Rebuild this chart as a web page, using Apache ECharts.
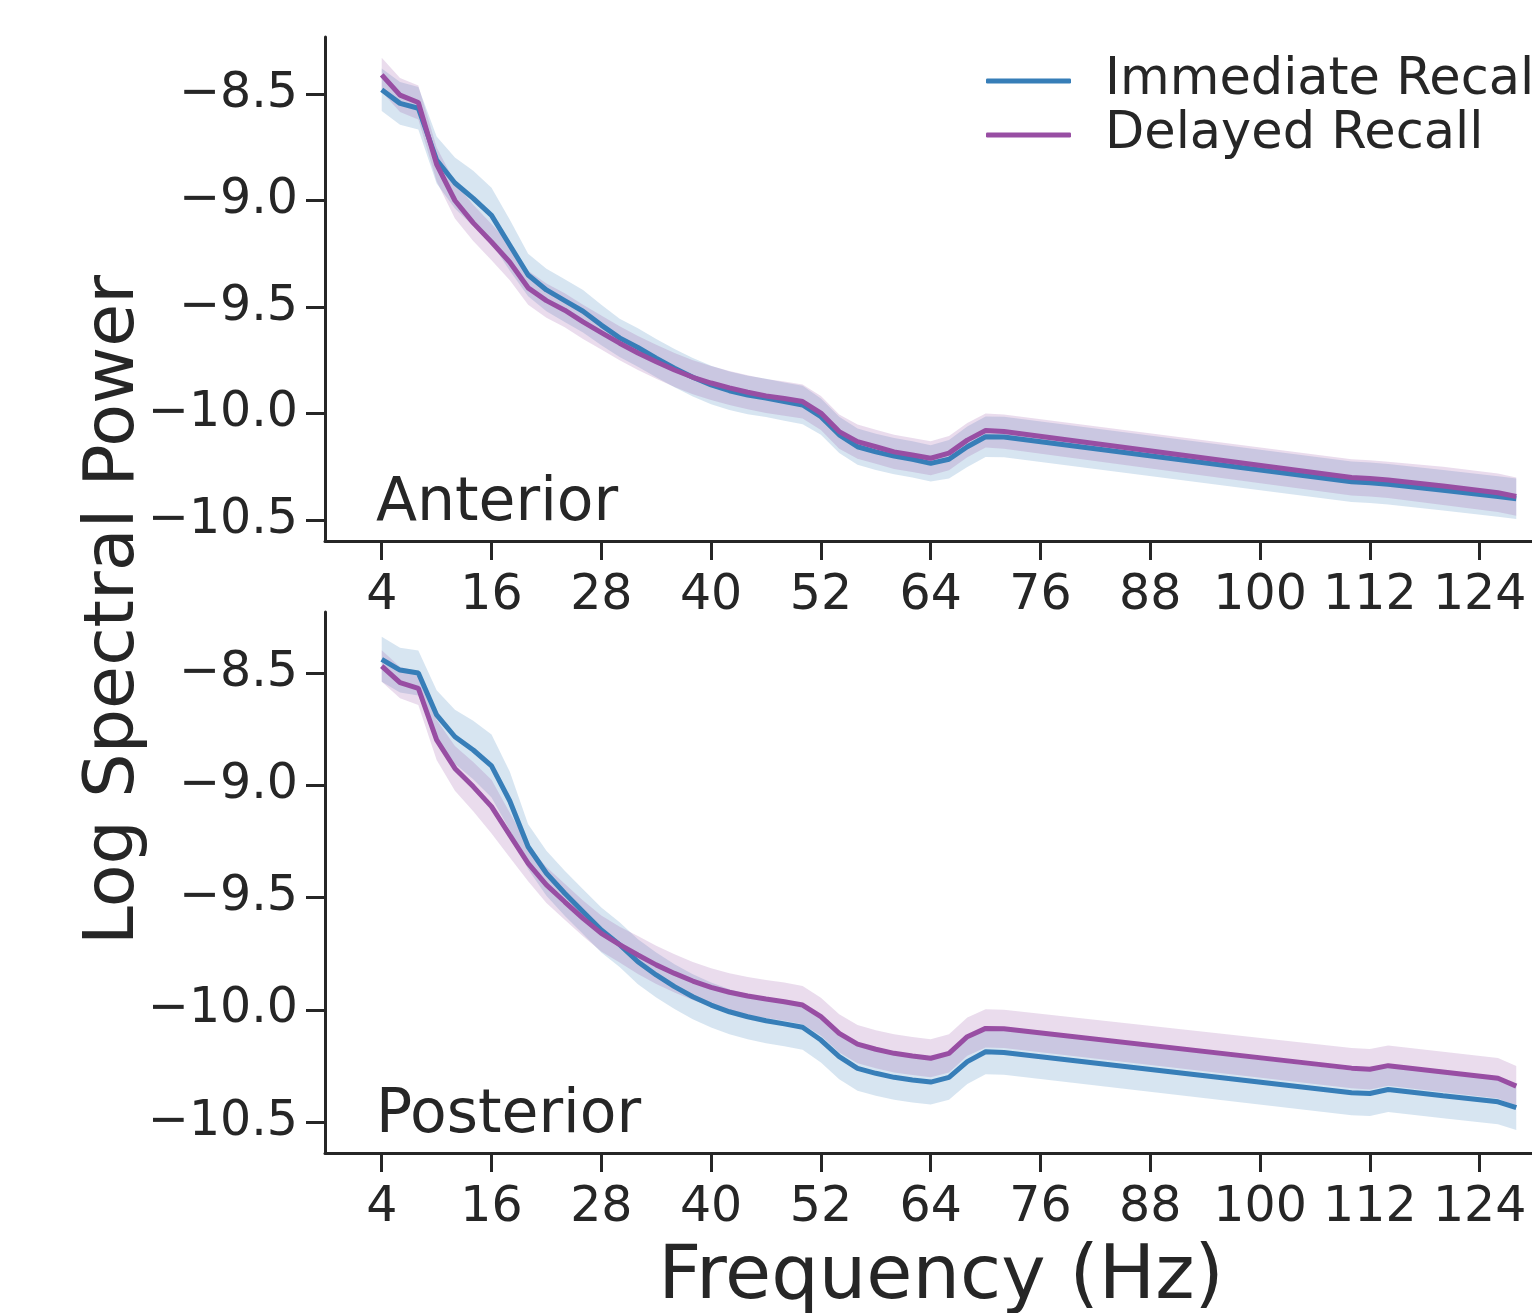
<!DOCTYPE html>
<html>
<head>
<meta charset="utf-8">
<script src="https://cdn.jsdelivr.net/npm/echarts@6/dist/echarts.min.js"></script>
<style>
html, body { margin: 0; padding: 0; background: #fff; }
#id-div-chart { width: 1532px; height: 1313px; }
</style>
</head>
<body>
<div id="id-div-chart"></div>
<script>
var log = console.log.bind(console)

var e = (selector) => document.querySelector(selector)

// 频率 (Hz)
var freqs = [4, 6, 8, 10, 12, 14, 16, 18, 20, 22, 24, 26, 28, 30, 32, 34, 36, 38, 40, 42,
    44, 46, 48, 50, 52, 54, 56, 58, 60, 62, 64, 66, 68, 70, 72, 110, 112, 114, 120, 126, 128]

// Anterior
var antImmediate = [-8.48, -8.544, -8.567, -8.81, -8.918, -8.99, -9.07, -9.21, -9.35, -9.42,
    -9.47, -9.52, -9.585, -9.645, -9.69, -9.74, -9.787, -9.83, -9.866, -9.893,
    -9.913, -9.927, -9.944, -9.96, -10.015, -10.10, -10.156, -10.18, -10.20, -10.215,
    -10.234, -10.215, -10.156, -10.109, -10.11, -10.32, -10.325, -10.332, -10.36, -10.39, -10.40]
var antImmediateErr = [0.1, 0.1, 0.1, 0.11, 0.12, 0.13, 0.13, 0.12, 0.1, 0.1,
    0.1, 0.1, 0.095, 0.09, 0.09, 0.09, 0.09, 0.09, 0.09, 0.09,
    0.09, 0.09, 0.09, 0.09, 0.085, 0.085, 0.085, 0.085, 0.085, 0.085,
    0.085, 0.09, 0.095, 0.095, 0.095, 0.095, 0.095, 0.095, 0.095, 0.095, 0.095]
var antDelayed = [-8.41, -8.505, -8.54, -8.83, -9.0, -9.105, -9.195, -9.29, -9.41, -9.47,
    -9.515, -9.57, -9.62, -9.67, -9.716, -9.757, -9.796, -9.83, -9.857, -9.88,
    -9.90, -9.918, -9.93, -9.944, -9.998, -10.085, -10.132, -10.156, -10.18, -10.195,
    -10.21, -10.186, -10.125, -10.08, -10.085, -10.30, -10.305, -10.312, -10.34, -10.372, -10.39]
var antDelayedErr = [0.08, 0.08, 0.08, 0.08, 0.085, 0.085, 0.085, 0.085, 0.08, 0.08,
    0.08, 0.08, 0.08, 0.08, 0.08, 0.08, 0.08, 0.08, 0.08, 0.08,
    0.08, 0.08, 0.08, 0.08, 0.08, 0.08, 0.08, 0.08, 0.08, 0.08,
    0.08, 0.08, 0.08, 0.08, 0.08, 0.085, 0.085, 0.085, 0.09, 0.09, 0.09]

// Posterior
var postImmediate = [-8.439, -8.487, -8.50, -8.687, -8.784, -8.843, -8.914, -9.07, -9.274, -9.392,
    -9.481, -9.563, -9.645, -9.71, -9.786, -9.845, -9.897, -9.942, -9.979, -10.009,
    -10.031, -10.049, -10.063, -10.078, -10.135, -10.209, -10.261, -10.283, -10.301, -10.313,
    -10.322, -10.301, -10.231, -10.187, -10.19, -10.37, -10.373, -10.355, -10.383, -10.41, -10.436]
var postImmediateErr = [0.1, 0.1, 0.1, 0.11, 0.12, 0.13, 0.14, 0.13, 0.1, 0.1,
    0.1, 0.1, 0.1, 0.1, 0.1, 0.1, 0.1, 0.1, 0.1, 0.1,
    0.1, 0.1, 0.1, 0.1, 0.1, 0.1, 0.1, 0.1, 0.1, 0.1,
    0.1, 0.1, 0.1, 0.1, 0.1, 0.1, 0.1, 0.1, 0.1, 0.1, 0.1]
var postDelayed = [-8.469, -8.543, -8.568, -8.798, -8.925, -9.006, -9.095, -9.222, -9.348, -9.444,
    -9.519, -9.593, -9.66, -9.71, -9.756, -9.80, -9.838, -9.872, -9.90, -9.922,
    -9.939, -9.952, -9.964, -9.979, -10.031, -10.105, -10.153, -10.176, -10.194, -10.206,
    -10.216, -10.194, -10.12, -10.083, -10.085, -10.26, -10.265, -10.249, -10.277, -10.305, -10.34]
var postDelayedErr = [0.07, 0.07, 0.075, 0.09, 0.1, 0.11, 0.12, 0.1, 0.08, 0.08,
    0.08, 0.08, 0.08, 0.08, 0.085, 0.085, 0.085, 0.085, 0.085, 0.085,
    0.085, 0.085, 0.085, 0.085, 0.085, 0.085, 0.085, 0.085, 0.085, 0.085,
    0.085, 0.085, 0.085, 0.085, 0.085, 0.09, 0.09, 0.09, 0.09, 0.09, 0.09]

var xTicks = [4, 16, 28, 40, 52, 64, 76, 88, 100, 112, 124]
var yTicks = [-10.5, -10.0, -9.5, -9.0, -8.5]

var ink = '#262626'
var font = 'DejaVu Sans'
var blue = '#377eb8'
var purple = '#984ea3'

var minusLabel = (v) => (v < 0 ? '\u2212' : '') + Math.abs(v).toFixed(1)

var xAxisFor = function(grid) {
    return {
        type: 'value',
        gridIndex: grid,
        min: -2.2,
        max: 134.2,
        axisLine: {show: true, onZero: false, lineStyle: {color: ink, width: 3}},
        axisTick: {show: true, customValues: xTicks, length: 19, lineStyle: {color: ink, width: 3}},
        axisLabel: {customValues: xTicks, fontSize: 49, fontFamily: font, color: ink, margin: 31},
        splitLine: {show: false},
    }
}

var yAxisFor = function(grid, min, max) {
    return {
        type: 'value',
        gridIndex: grid,
        min: min,
        max: max,
        axisLine: {show: true, onZero: false, lineStyle: {color: ink, width: 3}},
        axisTick: {show: true, customValues: yTicks, length: 19, lineStyle: {color: ink, width: 3}},
        axisLabel: {customValues: yTicks, formatter: minusLabel, fontSize: 49, fontFamily: font, color: ink, margin: 27},
        splitLine: {show: false},
    }
}

// 误差带: 用坐标轴换算出上下沿, 画成一个多边形
var bandSeries = function(grid, values, errs, color) {
    return {
        type: 'custom',
        xAxisIndex: grid,
        yAxisIndex: grid,
        silent: true,
        z: 1,
        data: freqs.map((f, i) => [f, values[i] - errs[i], values[i] + errs[i]]),
        encode: {x: 0, y: [1, 2]},
        renderItem: function(params, api) {
            if (params.dataIndex !== 0) {
                return
            }
            var upper = []
            var lower = []
            for (var i = 0; i < freqs.length; i++) {
                upper.push(api.coord([freqs[i], values[i] + errs[i]]))
                lower.push(api.coord([freqs[i], values[i] - errs[i]]))
            }
            return {
                type: 'polygon',
                shape: {points: upper.concat(lower.reverse())},
                style: {fill: color, opacity: 0.2},
            }
        },
    }
}

var lineSeries = function(name, grid, values, color, z) {
    return {
        name: name,
        type: 'line',
        xAxisIndex: grid,
        yAxisIndex: grid,
        data: freqs.map((f, i) => [f, values[i]]),
        symbol: 'none',
        silent: true,
        lineStyle: {color: color, width: 5},
        itemStyle: {color: color},
        z: z,
    }
}

var textItem = function(text, x, y, size, extra) {
    var t = {
        type: 'text',
        x: x,
        y: y,
        silent: true,
        style: {
            text: text,
            fill: ink,
            font: size + 'px "' + font + '"',
            textAlign: 'left',
            textVerticalAlign: 'top',
        },
    }
    if (extra) {
        Object.assign(t.style, extra.style || {})
        if (extra.rotation) {
            t.rotation = extra.rotation
        }
    }
    return t
}

var buildOption = function() {
    var series = [
        bandSeries(0, antImmediate, antImmediateErr, blue),
        bandSeries(0, antDelayed, antDelayedErr, purple),
        bandSeries(1, postImmediate, postImmediateErr, blue),
        bandSeries(1, postDelayed, postDelayedErr, purple),
        lineSeries('Immediate Recall', 0, antImmediate, blue, 3),
        lineSeries('Delayed Recall', 0, antDelayed, purple, 4),
        lineSeries('Immediate Recall', 1, postImmediate, blue, 3),
        lineSeries('Delayed Recall', 1, postDelayed, purple, 4),
    ]

    return {
        animation: false,
        backgroundColor: '#fff',
        grid: [
            {left: 325, top: 37, width: 1248, height: 504, outerBoundsMode: 'none'},
            {left: 325, top: 612, width: 1248, height: 541, outerBoundsMode: 'none'},
        ],
        xAxis: [xAxisFor(0), xAxisFor(1)],
        yAxis: [yAxisFor(0, -10.5986, -8.2324), yAxisFor(1, -10.638, -8.2283)],
        legend: {
            data: ['Immediate Recall', 'Delayed Recall'],
            orient: 'vertical',
            left: 981,
            top: 49,
            itemWidth: 85,
            itemHeight: 5,
            itemGap: 0,
            icon: 'roundRect',
            selectedMode: false,
            textStyle: {fontSize: 51, fontFamily: font, color: ink, lineHeight: 54, padding: [0, 0, 0, 29]},
        },
        graphic: [
            textItem('Anterior', 376, 474, 60),
            textItem('Posterior', 376, 1086, 60),
            textItem('Frequency (Hz)', 941, 1241, 75, {style: {textAlign: 'center'}}),
            textItem('Log Spectral Power', 115, 610, 70, {style: {textAlign: 'center', textVerticalAlign: 'middle'}, rotation: Math.PI / 2}),
        ],
        series: series,
    }
}

var __main = function() {
    var chart = echarts.init(e('#id-div-chart'), null, {renderer: 'canvas'})
    chart.setOption(buildOption())
}

__main()
</script>
</body>
</html>
